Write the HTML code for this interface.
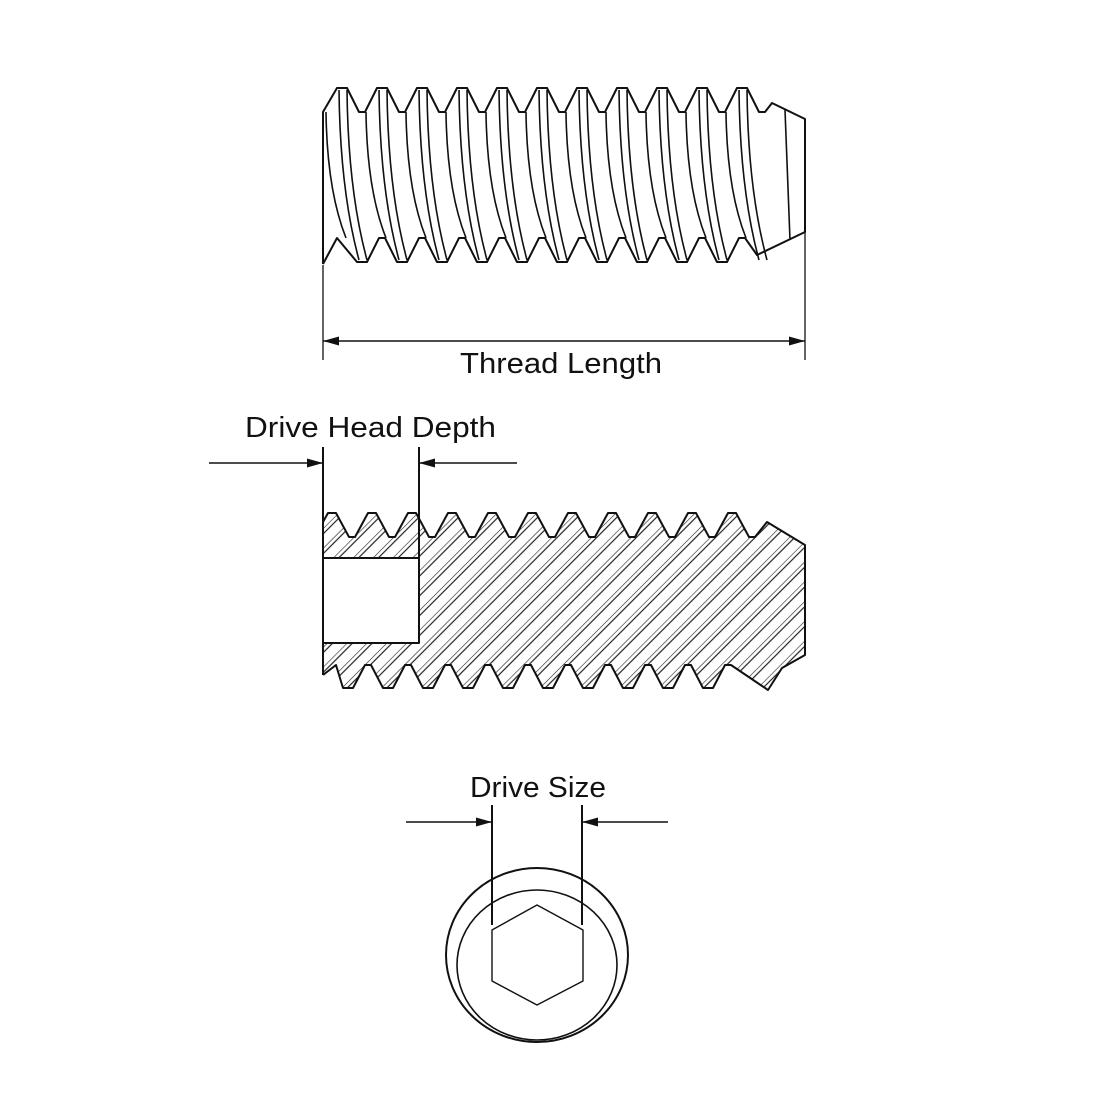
<!DOCTYPE html>
<html><head><meta charset="utf-8">
<style>html,body{margin:0;padding:0;background:#fff}svg{display:block}
text{font-family:"Liberation Sans",sans-serif;font-size:29px;fill:#111}</style></head>
<body>
<svg id="s" width="1100" height="1100" viewBox="0 0 1100 1100" xmlns="http://www.w3.org/2000/svg">
<defs>
<pattern id="h" patternUnits="userSpaceOnUse" width="14" height="14" patternTransform="rotate(45)">
<line x1="0" y1="0" x2="0" y2="14" stroke="#222" stroke-width="1.2"/>
<line x1="4" y1="0" x2="4" y2="14" stroke="#222" stroke-width="1.2"/>
</pattern>
<marker id="a" markerWidth="16" markerHeight="9" refX="16" refY="4.5" orient="auto" markerUnits="userSpaceOnUse">
<path d="M0,0 L16,4.5 L0,9 Z" fill="#111"/></marker>
</defs>
<g id="g" fill="none" stroke="#111" stroke-width="2" stroke-linejoin="round"></g>
<text x="460" y="373" textLength="202" lengthAdjust="spacingAndGlyphs">Thread Length</text>
<text x="245" y="437" textLength="251" lengthAdjust="spacingAndGlyphs">Drive Head Depth</text>
<text x="470" y="797" textLength="136" lengthAdjust="spacingAndGlyphs">Drive Size</text>
</svg>
<script>
var g=document.getElementById('g'),h='';
function P(d,extra){h+='<path d="'+d+'" '+(extra||'')+'/>';}
function L(x1,y1,x2,y2,w){h+='<line x1="'+x1+'" y1="'+y1+'" x2="'+x2+'" y2="'+y2+'"'+(w?' stroke-width="'+w+'"':'')+'/>';}
// ---- top view
var d='M323,264 L323,112';
for(var k=0;k<11;k++){var c=342+k*40;d+=' L'+(c-5)+',88 L'+(c+5)+',88 L'+(c+17)+',112 L'+(c+23)+',112';}
d+=' L772,103 L805,119 L805,232 L757,255';
for(var k=9;k>=0;k--){var c=362+k*40;d+=' L'+(c+23)+',238 L'+(c+17)+',238 L'+(c+5)+',262 L'+(c-5)+',262';}
d+=' L337,238 L323,264';
P(d);
for(var k=0;k<11;k++){var c=342+k*40;
 [-16,-3,5].forEach(function(o,i){
  if(c+o<326)return;
  var y1=i==0?112:90, y2=i==0?238:260;
  P('M'+(c+o)+','+y1+' Q'+(c+o+1)+',190 '+(c+o+20)+','+y2,'stroke-width="1.6"');
 });}
L(785,110,790,240,1.6);
// dims top
L(323,265,323,360,1.3);L(805,232,805,360,1.3);
h+='<line x1="560" y1="341" x2="323" y2="341" marker-end="url(#a)" stroke-width="1.5"/>';
h+='<line x1="560" y1="341" x2="805" y2="341" marker-end="url(#a)" stroke-width="1.5"/>';
// ---- section
var s='M323,675 L323,522';
for(var k=0;k<11;k++){var c=332+k*40;s+=' L'+(c-4)+',513 L'+(c+4)+',513 L'+(c+17)+',537 L'+(c+23)+',537';}
s+=' L767,522 L805,545 L805,655 L782,668 L768,690';
for(var k=9;k>=0;k--){var c=348+k*40;s+=' L'+(c+23)+',665 L'+(c+17)+',665 L'+(c+5)+',688 L'+(c-5)+',688';}
s+=' L336,665 L323,675';
h+='<path d="'+s+' Z M323,558 L419,558 L419,643 L323,643 Z" fill="url(#h)" fill-rule="evenodd" stroke="none"/>';
P(s);
h+='<rect x="323" y="558" width="96" height="85" fill="#fff"/>';
L(419,447,419,643);L(323,447,323,643);L(323,558,419,558);L(323,643,419,643);
h+='<line x1="209" y1="463" x2="323" y2="463" marker-end="url(#a)" stroke-width="1.5"/>';
h+='<line x1="517" y1="463" x2="419" y2="463" marker-end="url(#a)" stroke-width="1.5"/>';
// ---- end view
h+='<ellipse cx="537" cy="955" rx="91" ry="87"/>';
h+='<ellipse cx="537" cy="965" rx="80" ry="75" stroke-width="1.6"/>';
h+='<path d="M537,905 L583,930 L583,981 L537,1005 L492,981 L492,930 Z" stroke-width="1.4"/>';
L(492,805,492,925);L(582,805,582,925);
h+='<line x1="406" y1="822" x2="492" y2="822" marker-end="url(#a)" stroke-width="1.5"/>';
h+='<line x1="668" y1="822" x2="582" y2="822" marker-end="url(#a)" stroke-width="1.5"/>';
g.innerHTML=h;
</script>
</body></html>
